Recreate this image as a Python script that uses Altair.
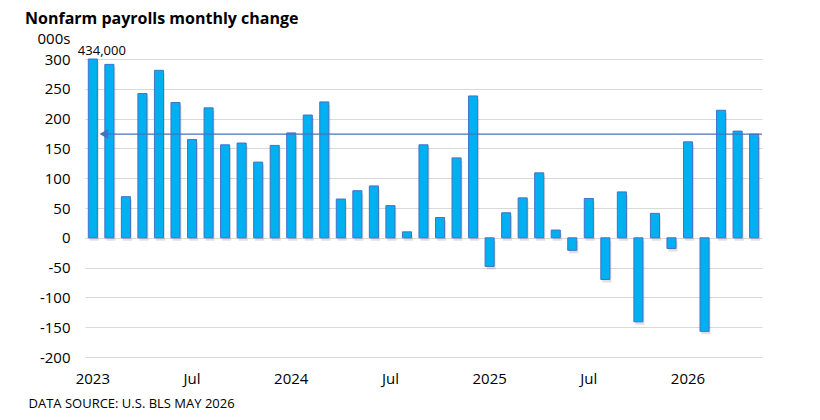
import pandas as pd
import altair as alt

# monthly change in nonfarm payrolls, thousands (Jan 2023 - May 2026)
months = [f"{y}-{m:02d}" for y in range(2023, 2027) for m in range(1, 13)][:41]
changes = [434, 291, 69, 242, 281, 227, 165, 218, 156, 159, 127, 155,
           176, 206, 228, 65, 79, 87, 54, 10, 156, 34, 134, 238,
           -48, 42, 67, 109, 13, -21, 66, -70, 77, -141, 41, -18,
           161, -157, 214, 179, 174]
avg_value = 174
avg_start = "2023-02"

tick_months = ["2023-01", "2023-07", "2024-01", "2024-07", "2025-01", "2025-07", "2026-01"]
tick_text = ["2023", "Jul", "2024", "Jul", "2025", "Jul", "2026"]
y_ticks = [-200, -150, -100, -50, 0, 50, 100, 150, 200, 250, 300]

FONT = "Open Sans"
W, H = 677, 298
BAR = "#00B0F0"
EDGE = "#4472C4"

df = pd.DataFrame({"month": months, "change": changes})
avg_df = pd.DataFrame({"month": [avg_start], "change": [avg_value]})

label_expr = "".join(f"datum.value == '{m}' ? '{t}' : " for m, t in zip(tick_months, tick_text)) + "''"

x_axis = alt.Axis(values=tick_months, labelExpr=label_expr, labelAngle=0,
                  ticks=False, domain=False, grid=False, labelPadding=14,
                  labelFontSize=15, labelFont=FONT, labelColor="#000000",
                  title="DATA SOURCE: U.S. BLS MAY 2026", titleFont=FONT,
                  titleFontSize=13, titleFontWeight="normal", titleColor="#000000",
                  titleAnchor="start", titleAlign="left", titleX=-57, titleY=50,
                  titleBaseline="alphabetic")
y_axis = alt.Axis(values=y_ticks, labelExpr="'' + datum.value", labelOverlap=False,
                  ticks=False, domain=False, gridColor="#d9d9d9", labelPadding=15,
                  labelFontSize=15, labelFont=FONT, labelColor="#000000",
                  title="000s", titleAngle=0, titleFont=FONT, titleFontSize=15,
                  titleFontWeight="normal", titleColor="#000000",
                  titleAlign="left", titleX=-48, titleY=-16,
                  titleBaseline="alphabetic")
x_scale = alt.Scale(domain=months, paddingInner=0.45, paddingOuter=0.2)
y_scale = alt.Scale(domain=[-200, 300], clamp=True, nice=False)

x = alt.X("month:O", scale=x_scale, axis=x_axis)
x_start = alt.X("month:O", scale=x_scale, axis=x_axis, bandPosition=0)
y = alt.Y("change:Q", scale=y_scale, axis=y_axis)

base = alt.Chart(df)

shadow = base.mark_bar(color="#000000", opacity=0.12, xOffset=1.5, yOffset=3).encode(x=x, y=y)
bars = base.mark_bar(color=BAR, stroke=EDGE, strokeWidth=1).encode(x=x, y=y)

peak = base.transform_filter(alt.datum.change > 300).transform_calculate(
    label="format(datum.change * 1000, ',.0f')"
).mark_text(
    font=FONT, fontSize=13, color="#000000", baseline="bottom", dx=9, dy=-1
).encode(x=x, y=y, text="label:N")

avg_line = alt.Chart(avg_df).mark_rule(color=EDGE, strokeWidth=1.2).encode(
    x=x_start, x2=alt.value(W), y=y)
avg_arrow = alt.Chart(avg_df).mark_point(shape="triangle-left", filled=True, size=100,
                                         color=EDGE, opacity=1, xOffset=-1).encode(x=x_start, y=y)

chart = alt.layer(shadow, bars, avg_line, avg_arrow, peak).properties(
    width=W, height=H,
    background="white",
    title=alt.TitleParams("Nonfarm payrolls monthly change", anchor="start", frame="group",
                          font=FONT, fontSize=16, fontWeight="bold", color="#000000",
                          dx=-60, dy=4, offset=8),
    autosize=alt.AutoSizeParams(type="none"),
    padding={"left": 77, "top": 51, "right": 50, "bottom": 55},
).configure_view(strokeWidth=0)

chart.save("out.html", embed_options={"renderer": "svg", "actions": False})
